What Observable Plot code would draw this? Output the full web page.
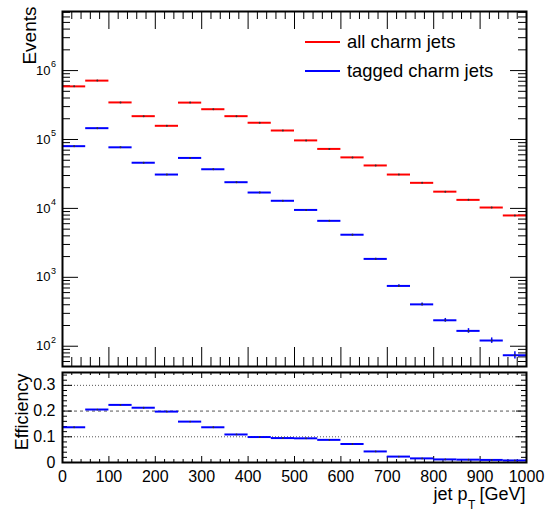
<!DOCTYPE html>
<html><head><meta charset="utf-8">
<script src="https://cdn.jsdelivr.net/npm/d3@7"></script>
<script src="https://cdn.jsdelivr.net/npm/@observablehq/plot@0.6"></script>
<style>
html,body{margin:0;padding:0;background:#fff;}
#wrap{position:relative;width:546px;height:513px;font-family:"Liberation Sans",Arial,sans-serif;}
#wrap svg{position:absolute;left:0;}
.leg{position:absolute;left:305px;display:flex;align-items:center;height:22px;font-size:18.4px;color:#000;white-space:nowrap;}
.leg .ln{width:35px;height:2px;margin-right:7px;}
</style></head><body><div id="wrap"></div>
<script>
// ---- data ----
const binWidth = 50;
const binLow = [0,50,100,150,200,250,300,350,400,450,500,550,600,650,700,750,800,850,900,950];
const allCharm = [5.9e5,7.15e5,3.45e5,2.18e5,1.58e5,3.43e5,2.75e5,2.18e5,1.75e5,1.35e5,9.7e4,7.3e4,5.5e4,4.2e4,3.1e4,2.35e4,1.75e4,1.33e4,1.03e4,7.9e3];
const taggedCharm = [8.0e4,1.46e5,7.7e4,4.6e4,3.1e4,5.4e4,3.7e4,2.4e4,1.7e4,1.29e4,9.5e3,6.6e3,4.15e3,1.85e3,750,405,238,167,121,74];
const taggedErr = [280,380,280,215,175,230,190,155,130,115,97,81,64,43,27,20,15,13,11,9];
const efficiency = [0.137,0.206,0.224,0.213,0.198,0.159,0.137,0.109,0.099,0.095,0.094,0.088,0.072,0.043,0.023,0.016,0.012,0.011,0.010,0.008];
const seriesNames = ["all charm jets","tagged charm jets"];
const seriesColors = ["#ff0000","#0000ff"];
const xTickLabels = [0,100,200,300,400,500,600,700,800,900,1000];
const logTickExponents = [2,3,4,5,6];
const effTickLabels = [0,0.1,0.2,0.3];
const yTitle = "Events", effTitle = "Efficiency";

// ---- derived tables ----
const rows = binLow.map((lo,i)=>({lo, hi: lo+binWidth, c: lo+binWidth/2, all: allCharm[i], tag: taggedCharm[i], tagErr: taggedErr[i], eff: efficiency[i]}));
const xMajor = xTickLabels;
const xMinor = d3.range(0,1001,20).filter(v=>v%100!==0);
const yDomain = [50.8, 7.2e6];
const logMajor = logTickExponents.map(e=>10**e);
const logMinor = [];
for (let e=1;e<=6;e++) for (let k=2;k<=9;k++){const v=k*10**e; if(v>=yDomain[0]&&v<=yDomain[1]) logMinor.push(v);}
const effMajor = effTickLabels;
const effMinor = d3.range(0,18).filter(i=>i%5!==0).map(i=>i*0.02);

const W=546, ML=62, MR=20;
const FW = W-ML-MR;
const font = "Liberation Sans, Arial, sans-serif";
const wrap = document.getElementById("wrap");

// ---- top panel ----
const TH=370, TMT=11, TMB=4, TFH=TH-TMT-TMB;
const topPlot = Plot.plot({
  width:W, height:TH, marginLeft:ML, marginRight:MR, marginTop:TMT, marginBottom:TMB,
  style:{fontFamily:font, background:"transparent", overflow:"visible"},
  x:{domain:[0,1000], axis:null},
  y:{type:"log", domain:yDomain, axis:null},
  marks:[
    Plot.ruleX(xMajor,{x:d=>d, insetTop:TFH-19, stroke:"#000"}),
    Plot.ruleX(xMinor,{x:d=>d, insetTop:TFH-9, stroke:"#000"}),
    Plot.ruleX(xMajor,{x:d=>d, insetBottom:TFH-18, stroke:"#000"}),
    Plot.ruleX(xMinor,{x:d=>d, insetBottom:TFH-8, stroke:"#000"}),
    Plot.ruleY(logMajor,{y:d=>d, insetRight:FW-16, stroke:"#000"}),
    Plot.ruleY(logMinor,{y:d=>d, insetRight:FW-8, stroke:"#000"}),
    Plot.ruleY(logMajor,{y:d=>d, insetLeft:FW-16, stroke:"#000"}),
    Plot.ruleY(logMinor,{y:d=>d, insetLeft:FW-8, stroke:"#000"}),
    Plot.ruleY(rows,{x1:"lo", x2:"hi", y:"all", stroke:seriesColors[0], strokeWidth:2}),
    Plot.ruleY(rows,{x1:"lo", x2:"hi", y:"tag", stroke:seriesColors[1], strokeWidth:2}),
    Plot.ruleX(rows,{x:"c", y1:d=>d.tag-d.tagErr, y2:d=>d.tag+d.tagErr, stroke:seriesColors[1], strokeWidth:1.5}),
    Plot.dot(rows,{x:"c", y:"all", r:1, fill:"#333", stroke:null}),
    Plot.dot(rows,{x:"c", y:"tag", r:1, fill:"#333", stroke:null}),
    Plot.text(logTickExponents,{y:d=>10**d, text:()=>"10", frameAnchor:"left", dx:-12, textAnchor:"end", lineAnchor:"middle", fontSize:13, fill:"#000"}),
    Plot.text(logTickExponents,{y:d=>10**d, text:d=>String(d), frameAnchor:"left", dx:-11.5, dy:-6, textAnchor:"start", lineAnchor:"middle", fontSize:9, fill:"#000"}),
    Plot.text([yTitle],{text:d=>d, frameAnchor:"top-left", rotate:-90, textAnchor:"end", lineAnchor:"middle", dx:-32.5, dy:-5, fontSize:19, fill:"#000"}),
    Plot.frame({stroke:"#000", strokeWidth:2})
  ]
});
topPlot.style.top="0px";
wrap.appendChild(topPlot);

// ---- bottom panel ----
const BTop=366, BH=147, BMT=6, BMB=51, BFH=BH-BMT-BMB;
const bottomPlot = Plot.plot({
  width:W, height:BH, marginLeft:ML, marginRight:MR, marginTop:BMT, marginBottom:BMB,
  style:{fontFamily:font, background:"transparent", overflow:"visible"},
  x:{domain:[0,1000], axis:null},
  y:{domain:[0,0.35], axis:null},
  marks:[
    Plot.ruleY([0.1,0.3],{y:d=>d, stroke:"#555", strokeDasharray:"1,2"}),
    Plot.ruleY([0.2],{y:d=>d, stroke:"#555", strokeDasharray:"3,3"}),
    Plot.ruleX(xMajor,{x:d=>d, insetTop:BFH-6, stroke:"#000"}),
    Plot.ruleX(xMinor,{x:d=>d, insetTop:BFH-3, stroke:"#000"}),
    Plot.ruleX(xMajor,{x:d=>d, insetBottom:BFH-6, stroke:"#000"}),
    Plot.ruleX(xMinor,{x:d=>d, insetBottom:BFH-3, stroke:"#000"}),
    Plot.ruleY(effMajor,{y:d=>d, insetRight:FW-10, stroke:"#000"}),
    Plot.ruleY(effMinor,{y:d=>d, insetRight:FW-5, stroke:"#000"}),
    Plot.ruleY(effMajor,{y:d=>d, insetLeft:FW-10, stroke:"#000"}),
    Plot.ruleY(effMinor,{y:d=>d, insetLeft:FW-5, stroke:"#000"}),
    Plot.ruleY(rows,{x1:"lo", x2:"hi", y:"eff", stroke:seriesColors[1], strokeWidth:2}),
    Plot.dot(rows,{x:"c", y:"eff", r:0.9, fill:"#333", stroke:null}),
    Plot.text(effTickLabels,{y:d=>d, text:d=>String(d), frameAnchor:"left", dx:-7, textAnchor:"end", lineAnchor:"middle", fontSize:16, fill:"#000"}),
    Plot.text(xTickLabels,{x:d=>d, text:d=>String(d), frameAnchor:"bottom", dy:19.5, lineAnchor:"bottom", fontSize:16, fill:"#000"}),
    Plot.text([effTitle],{text:d=>d, frameAnchor:"top-left", rotate:-90, textAnchor:"end", lineAnchor:"middle", dx:-40, dy:1, fontSize:18, fill:"#000"}),
    Plot.text(["[GeV]"],{text:d=>" "+d, frameAnchor:"bottom-right", dx:-1, dy:37, textAnchor:"end", lineAnchor:"bottom", fontSize:18, fill:"#000"}),
    Plot.text(["jet p"],{text:d=>d, frameAnchor:"bottom-right", dx:-59, dy:37, textAnchor:"end", lineAnchor:"bottom", fontSize:18, fill:"#000"}),
    Plot.text(["T"],{text:d=>d, frameAnchor:"bottom-right", dx:-58.5, dy:46, textAnchor:"start", lineAnchor:"bottom", fontSize:12, fill:"#000"}),
    Plot.frame({stroke:"#000", strokeWidth:2})
  ]
});
bottomPlot.style.top=BTop+"px";
wrap.appendChild(bottomPlot);

// ---- legend ----
const legendY = [42, 70.7];
seriesNames.forEach((name,i)=>{
  const d=document.createElement("div");
  d.className="leg";
  d.style.top=(legendY[i]-11)+"px";
  const ln=document.createElement("span"); ln.className="ln"; ln.style.background=seriesColors[i];
  const tx=document.createElement("span"); tx.textContent=name;
  d.appendChild(ln); d.appendChild(tx);
  wrap.appendChild(d);
});
</script></body></html>
